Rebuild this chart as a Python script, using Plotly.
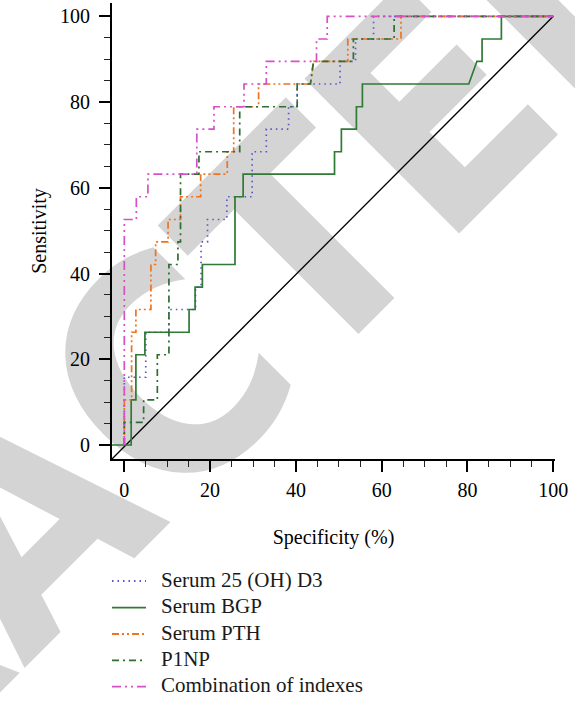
import plotly.graph_objects as go

# ---- data ----
names = ["Serum 25 (OH) D3", "Serum BGP", "Serum PTH", "P1NP", "Combination of indexes"]

d3_x = [0, 0, 5, 5, 10.4, 10.4, 16.6, 16.6, 17.9, 17.9, 19.4, 19.4, 23.9, 23.9, 29.8, 29.8,
        33.1, 33.1, 38.3, 38.3, 40.3, 40.3, 50.3, 50.3, 53.9, 53.9, 58.1, 58.1, 100]
d3_y = [0, 15.8, 15.8, 26.3, 26.3, 31.6, 31.6, 36.8, 36.8, 47.4, 47.4, 52.6, 52.6, 57.9, 57.9, 68.4,
        68.4, 73.7, 73.7, 78.9, 78.9, 84.2, 84.2, 89.5, 89.5, 94.7, 94.7, 100, 100]

bgp_x = [-3, 1.6, 1.6, 2.7, 2.7, 4.8, 4.8, 15.1, 15.1, 16.5, 16.5, 18.2, 18.2, 25.8, 25.8, 27.7,
         27.7, 49, 49, 50.6, 50.6, 54.1, 54.1, 55.5, 55.5, 80.3, 82.2, 83.4, 83.4, 87.9, 87.9, 100]
bgp_y = [0, 0, 10.5, 10.5, 21.05, 21.05, 26.3, 26.3, 31.6, 31.6, 36.8, 36.8, 42.1, 42.1, 57.9, 57.9,
         63.2, 63.2, 68.4, 68.4, 73.7, 73.7, 78.9, 78.9, 84.2, 84.2, 89.5, 89.5, 94.7, 94.7, 100, 100]

pth_x = [0, 0, 1.7, 1.7, 2.7, 2.7, 6.2, 6.2, 7.3, 7.3, 10.2, 10.2, 13.1, 13.1, 17.8, 17.8, 24.0,
         24.0, 25.5, 25.5, 31.3, 31.3, 43.4, 44.1, 52.1, 52.1, 64.5, 64.5, 100]
pth_y = [0, 10.5, 10.5, 26.3, 26.3, 31.6, 31.6, 42.1, 42.1, 47.4, 47.4, 52.6, 52.6, 57.9, 57.9, 63.2, 63.2,
         68.4, 68.4, 78.9, 78.9, 84.2, 84.2, 89.5, 89.5, 94.7, 94.7, 100, 100]

p1np_x = [0, 0, 4.5, 4.5, 7.7, 7.7, 10.4, 10.4, 12.5, 12.5, 13.1, 13.1, 17.4, 17.4, 26.9, 26.9,
          40.3, 40.3, 43.4, 44.1, 53.4, 53.4, 62.9, 62.9, 100]
p1np_y = [0, 5.26, 5.26, 10.5, 10.5, 21.05, 21.05, 42.1, 42.1, 47.4, 47.4, 63.2, 63.2, 68.4, 68.4, 78.9,
          78.9, 84.2, 84.2, 89.5, 89.5, 94.7, 94.7, 100, 100]

comb_x = [0, 0, 2.8, 2.8, 5.5, 5.5, 16.9, 16.9, 20.9, 20.9, 27.9, 27.9, 33.1, 33.1, 44.8, 44.8,
          47.3, 47.3, 100]
comb_y = [0, 52.6, 52.6, 57.9, 57.9, 63.2, 63.2, 73.7, 73.7, 78.9, 78.9, 84.2, 84.2, 89.5, 89.5, 94.7,
          94.7, 100, 100]

diag_x = [-2.87, 100]
diag_y = [-3.27, 100]

x_ticks = [0, 20, 40, 60, 80, 100]
y_ticks = [0, 20, 40, 60, 80, 100]

watermark = "RETRACTED"

# ---- styles ----
colors = ["#5c55c9", "#2f7a34", "#f0731e", "#2d6e33", "#d651c6"]
dashes = ["1.5px,4px", "solid", "7px,3px,2px,3px,2px,3px", "7px,4px,2px,4px", "9px,4px,2px,4px,2px,4px"]
series = [(d3_x, d3_y), (bgp_x, bgp_y), (pth_x, pth_y), (p1np_x, p1np_y), (comb_x, comb_y)]

FONT = "Liberation Serif, Times New Roman, serif"
W, H = 575, 701
ML, MR, MT, MB = 112, 20, 3, 242
PW, PH = W - ML - MR, H - MT - MB


def px2paper_x(px):
    return (px - ML) / PW


def px2paper_y(py):
    return (H - MB - py) / PH


fig = go.Figure()
fig.add_trace(go.Scatter(x=diag_x, y=diag_y, mode="lines", line=dict(color="black", width=1.3),
                         showlegend=False, hoverinfo="skip"))
for (xs, ys), nm, c, d in zip(series, names, colors, dashes):
    fig.add_trace(go.Scatter(x=xs, y=ys, mode="lines", name=nm, showlegend=False,
                             line=dict(color=c, width=1.7, dash=d)))

axis_common = dict(
    showgrid=False, zeroline=False, showline=True, linecolor="black", linewidth=1.8,
    ticks="outside", ticklen=11, tickwidth=1.6, tickcolor="black", automargin=False,
    tickfont=dict(family=FONT, size=20, color="black"),
    minor=dict(ticks="outside", ticklen=6, tickwidth=1.4, tickcolor="#222", dtick=5, showgrid=False),
)

fig.update_xaxes(range=[-2.87, 100.4], tickvals=x_ticks, ticktext=[str(v) for v in x_ticks],
                 title=dict(text="Specificity (%)", font=dict(family=FONT, size=20, color="black"),
                            standoff=30),
                 ticklabelstandoff=1, **axis_common)
fig.update_yaxes(range=[-3.27, 103.1], tickvals=y_ticks, ticktext=[str(v) for v in y_ticks],
                 title=dict(text="Sensitivity", font=dict(family=FONT, size=20, color="black"),
                            standoff=8),
                 ticklabelstandoff=5, **axis_common)

# watermark behind the traces
wx, wy = px2paper_x(11), px2paper_y(504)
fig.add_shape(type="rect", xref="paper", yref="paper", x0=wx - 0.001, x1=wx + 0.001,
              y0=wy - 0.001, y1=wy + 0.001, line=dict(width=0), fillcolor="rgba(0,0,0,0)",
              layer="below",
              label=dict(text=watermark, textangle=-45, textposition="middle center",
                         font=dict(family="Liberation Sans Narrow, DejaVu Sans Condensed, Arial Narrow, sans-serif",
                                   size=300, color="#d4d4d4", weight="bold")))

# manual legend (sample line + label)
leg_y = [581, 607.7, 634, 660.3, 686.7]
for nm, c, d, ly in zip(names, colors, dashes, leg_y):
    fig.add_shape(type="line", xref="paper", yref="paper",
                  x0=px2paper_x(112), x1=px2paper_x(146), y0=px2paper_y(ly), y1=px2paper_y(ly),
                  line=dict(color=c, width=1.8, dash=d))
    fig.add_annotation(text=nm, xref="paper", yref="paper", x=px2paper_x(159), y=px2paper_y(ly - 1.5),
                       xanchor="left", yanchor="middle", showarrow=False,
                       font=dict(family=FONT, size=21, color="#1a1a1a"))

fig.update_layout(
    width=W, height=H,
    margin=dict(l=ML, r=MR, t=MT, b=MB),
    paper_bgcolor="white", plot_bgcolor="rgba(0,0,0,0)",
    font=dict(family=FONT, size=20, color="black"),
    showlegend=False,
)

fig.write_html("out.html", config={"displayModeBar": False},
               post_script="document.body.style.margin='0px';document.body.style.overflow='hidden';")
